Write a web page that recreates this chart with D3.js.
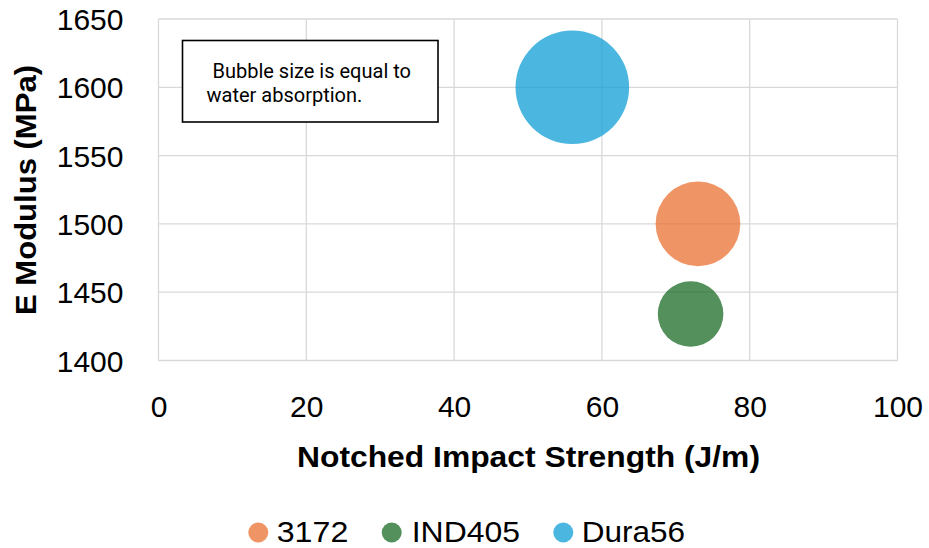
<!DOCTYPE html>
<html>
<head>
<meta charset="utf-8">
<script src="https://cdn.jsdelivr.net/npm/d3@7"></script>
<style>
  html, body { margin: 0; padding: 0; background: #ffffff; }
  svg { display: block; }
</style>
</head>
<body>
<div id="chart"></div>
<script>
// ---- data ----
const seriesNames = ["3172", "IND405", "Dura56"];
const impactStrength = [73, 72, 56];        // J/m (x)
const eModulus = [1500, 1434, 1600];        // MPa (y)
const waterAbsorption = [0.5, 0.3, 0.9];    // bubble size
const seriesColors = ["#E97132", "#196B24", "#0F9ED5"];
const xTicks = [0, 20, 40, 60, 80, 100];
const yTicks = [1400, 1450, 1500, 1550, 1600, 1650];
const xTitle = "Notched Impact Strength (J/m)";
const yTitle = "E Modulus (MPa)";
const noteLines = [" Bubble size is equal to", "water absorption."];

const W = 929, H = 548;
const plot = { left: 158.5, right: 897.5, top: 19, bottom: 360.5 };
const FONT = "'Liberation Sans', Arial, sans-serif";

const svg = d3.select("#chart").append("svg")
  .attr("width", W).attr("height", H);

const x = d3.scaleLinear().domain([0, 100]).range([plot.left, plot.right]);
const y = d3.scaleLinear().domain([1400, 1650]).range([plot.bottom, plot.top]);
const r = d3.scaleSqrt().domain([0, d3.max(waterAbsorption)]).range([0, 56.8]);

// gridlines
const grid = svg.append("g").attr("stroke", "#d9d9d9").attr("stroke-width", 1.3);
grid.selectAll("line.v").data(xTicks).join("line")
  .attr("x1", d => x(d)).attr("x2", d => x(d))
  .attr("y1", plot.top).attr("y2", plot.bottom);
grid.selectAll("line.h").data(yTicks).join("line")
  .attr("x1", plot.left).attr("x2", plot.right)
  .attr("y1", d => y(d)).attr("y2", d => y(d));

// axes (labels only)
const xAxis = svg.append("g")
  .attr("transform", `translate(0,${plot.bottom})`)
  .call(d3.axisBottom(x).tickValues(xTicks).tickSize(0).tickPadding(0).tickFormat(d3.format("d")));
xAxis.select(".domain").remove();
xAxis.selectAll("text")
  .attr("font-family", FONT).attr("font-size", 30).attr("fill", "#000")
  .attr("dy", null).attr("y", 56.5);

const yAxis = svg.append("g")
  .attr("transform", `translate(${plot.left},0)`)
  .call(d3.axisLeft(y).tickValues(yTicks).tickSize(0).tickPadding(0).tickFormat(d3.format("d")));
yAxis.select(".domain").remove();
yAxis.selectAll("text")
  .attr("font-family", FONT).attr("font-size", 30).attr("fill", "#000")
  .attr("x", -35).attr("dy", "0.35em");

// bubbles
const idx = d3.range(seriesNames.length);
svg.append("g").selectAll("circle").data(idx).join("circle")
  .attr("cx", i => x(impactStrength[i]))
  .attr("cy", i => y(eModulus[i]))
  .attr("r", i => r(waterAbsorption[i]))
  .attr("fill", i => seriesColors[i])
  .attr("fill-opacity", 0.75);

// note box
const note = svg.append("g");
note.append("rect")
  .attr("x", 182.5).attr("y", 40.5).attr("width", 255.5).attr("height", 81.5)
  .attr("fill", "#fff").attr("stroke", "#000").attr("stroke-width", 1.6);
note.selectAll("text").data(noteLines).join("text")
  .attr("x", (d, i) => i === 0 ? 207.5 : 206.5)
  .attr("y", (d, i) => 78.3 + i * 23.5)
  .attr("font-family", "Roboto, sans-serif").attr("font-size", 20)
  .attr("fill", "#000")
  .attr("xml:space", "preserve")
  .style("white-space", "pre")
  .text(d => d);

// axis titles
svg.append("text")
  .attr("x", (plot.left + plot.right) / 2 + 0.5).attr("y", 467)
  .attr("text-anchor", "middle")
  .attr("font-family", FONT).attr("font-weight", "bold").attr("font-size", 29)
  .attr("textLength", 463).attr("lengthAdjust", "spacingAndGlyphs")
  .attr("fill", "#000").text(xTitle);

svg.append("text")
  .attr("transform", "translate(36,190) rotate(-90)")
  .attr("text-anchor", "middle")
  .attr("font-family", FONT).attr("font-weight", "bold").attr("font-size", 29)
  .attr("textLength", 250).attr("lengthAdjust", "spacingAndGlyphs")
  .attr("fill", "#000").text(yTitle);

// legend
const legendCx = [258.3, 391.7, 563.3];
const legendTx = [276.7, 411.7, 581.7];
const legendTw = [71.6, 108.3, 103.3];
const legend = svg.append("g");
legend.selectAll("circle").data(idx).join("circle")
  .attr("cx", i => legendCx[i]).attr("cy", 532.5).attr("r", 10)
  .attr("fill", i => seriesColors[i]).attr("fill-opacity", 0.75);
legend.selectAll("text").data(idx).join("text")
  .attr("x", i => legendTx[i]).attr("y", 542)
  .attr("font-family", FONT).attr("font-size", 30)
  .attr("textLength", i => legendTw[i]).attr("lengthAdjust", "spacingAndGlyphs")
  .attr("fill", "#000")
  .text(i => seriesNames[i]);
</script>
</body>
</html>
